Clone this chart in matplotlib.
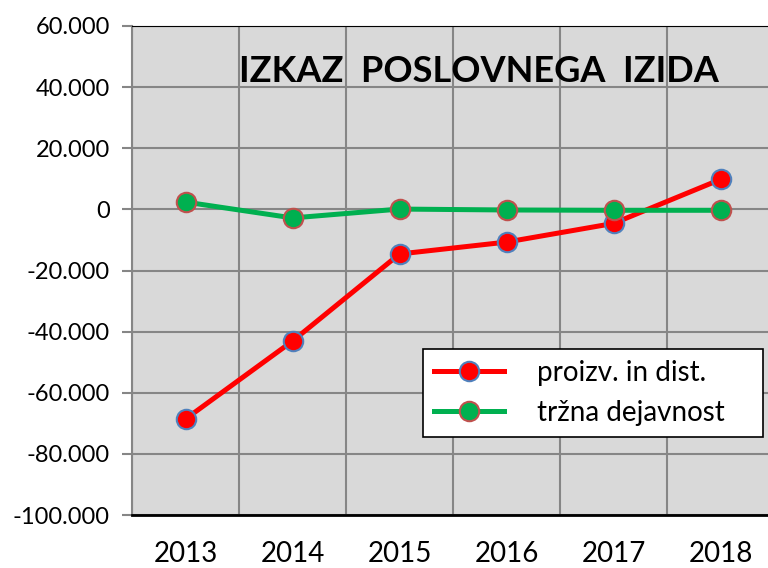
import matplotlib.pyplot as plt
from matplotlib.ticker import FuncFormatter

plt.rcParams['font.family'] = ['Lato', 'DejaVu Sans']

years = ['2013', '2014', '2015', '2016', '2017', '2018']
proizv = [-68600, -43100, -14600, -10700, -4600, 9800]
trzna = [2400, -2800, 100, -200, -300, -300]

fig = plt.figure(figsize=(7.68, 5.68), dpi=100)
ax = fig.add_axes([132 / 768, 1 - 515 / 568, 642 / 768, 489 / 568])
ax.set_facecolor('#D9D9D9')

x = range(len(years))
ax.plot(x, proizv, color='#FF0000', lw=3.6, marker='o', ms=14,
        markerfacecolor='#FF0000', markeredgecolor='#4F81BD', mew=1.5,
        label='proizv. in dist.', zorder=3)
ax.plot(x, trzna, color='#00B050', lw=3.6, marker='o', ms=14,
        markerfacecolor='#00B050', markeredgecolor='#C0504D', mew=1.5,
        label='tržna dejavnost', zorder=4)

ax.set_xlim(-0.5, len(years) - 0.5)
ax.set_ylim(-100000, 60000)
ax.set_yticks(range(-100000, 60001, 20000))
ax.yaxis.set_major_formatter(FuncFormatter(
    lambda v, p: '0' if v == 0 else f'{int(v):,}'.replace(',', '.')))
ax.set_xticks(list(x))
ax.set_xticklabels(years)
ax.set_xticks([i + 0.5 for i in range(-1, len(years))], minor=True)

ax.grid(axis='y', which='major', color='#868686', lw=1.5)
ax.grid(axis='x', which='minor', color='#868686', lw=1.5)
ax.set_axisbelow(True)

ax.tick_params(axis='x', which='both', length=0, labelsize=20, pad=19)
ax.tick_params(axis='y', length=7, width=1.5, color='#868686', labelsize=17, pad=9)

for s in ['left', 'right']:
    ax.spines[s].set_color('#868686')
    ax.spines[s].set_linewidth(1.5)
ax.spines['top'].set_color('black')
ax.spines['bottom'].set_color('black')
ax.spines['bottom'].set_linewidth(2)

ax.text(2.74, 45000, 'IZKAZ  POSLOVNEGA  IZIDA', ha='center', va='center',
        fontsize=26, fontweight='bold')

leg = ax.legend(loc='lower left', bbox_to_anchor=((423 - 132) / 642, (515 - 437) / 489,
                                                   340 / 642, 89 / 489),
                mode='expand', borderaxespad=0, fontsize=20, frameon=True,
                fancybox=False, edgecolor='black', framealpha=1,
                handlelength=2.5, handletextpad=1.2, borderpad=0.4,
                labelspacing=0.5)
leg.get_frame().set_linewidth(1.2)

fig.savefig('out.png', dpi=100)
